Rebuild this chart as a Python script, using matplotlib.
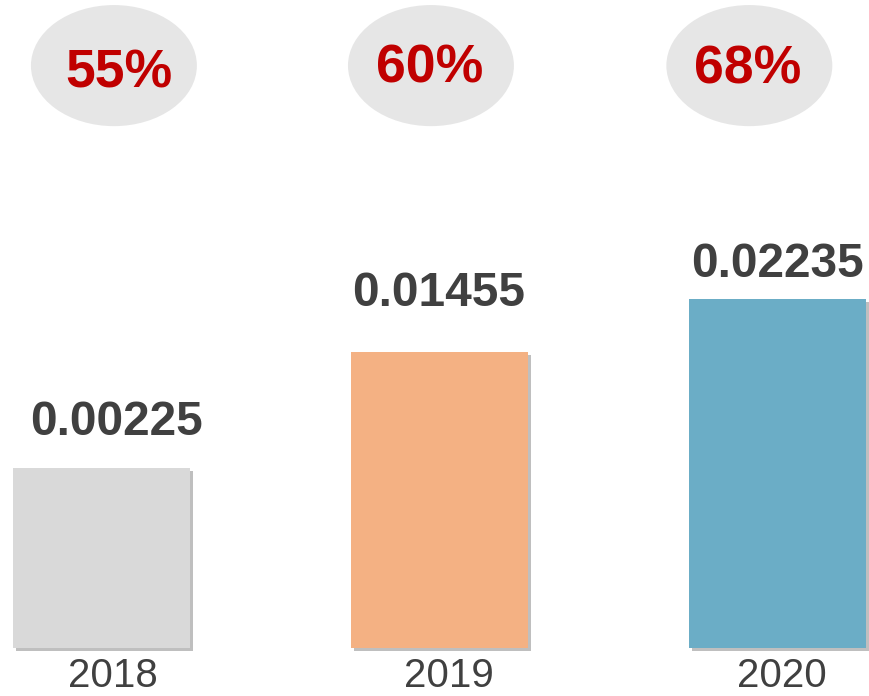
import matplotlib
matplotlib.use("Agg")
import matplotlib.pyplot as plt
from matplotlib.patches import Ellipse
import matplotlib.patheffects as pe

# ---- data ----
years = ["2018", "2019", "2020"]
values = [0.00225, 0.01455, 0.02235]
value_labels = ["0.00225", "0.01455", "0.02235"]
bar_heights = [0.516, 0.848, 1.0]          # visual bar heights (relative)
percents = ["55%", "60%", "68%"]

# ---- style / layout ----
bar_colors = ["#D9D9D9", "#F4B183", "#6BADC6"]
ellipse_color = "#E6E6E6"
red = "#C00000"
dark = "#404040"
font = ["Liberation Sans", "DejaVu Sans"]

fig = plt.figure(figsize=(8.7, 6.96), dpi=100)
ax = fig.add_axes([0, 0, 1, 1])
ax.set_xlim(-0.300, 2.274)
ax.set_ylim(-0.1375, 1.857)
ax.axis("off")

x = list(range(len(years)))
bars = ax.bar(x, bar_heights, width=0.524, color=bar_colors, zorder=2)
for b in bars:
    b.set_path_effects([
        pe.SimplePatchShadow(offset=(2.4, -2.0), shadow_rgbFace="0.5", alpha=0.5),
        pe.Normal(),
    ])

# percent bubbles
ell_x = [0.037, 0.975, 1.917]
ell_y = 1.669
for i, p in enumerate(percents):
    ax.add_patch(Ellipse((ell_x[i], ell_y), 0.491, 0.347, color=ellipse_color,
                         lw=0, zorder=1))
pct_pos = [(0.052, 1.607), (0.972, 1.622), (1.911, 1.619)]
for (px, py), p in zip(pct_pos, percents):
    ax.text(px, py, p, ha="center", va="baseline", fontsize=38.5,
            fontweight="bold", color=red, family=font, zorder=3)

# value labels
val_pos = [(0.046, 0.610), (0.999, 0.980), (2.0, 1.063)]
for (px, py), lab in zip(val_pos, value_labels):
    ax.text(px, py, lab, ha="center", va="baseline", fontsize=34.5,
            fontweight="bold", color=dark, family=font, zorder=3)

# year labels
year_x = [0.035, 1.028, 2.012]
for xx, yr in zip(year_x, years):
    ax.text(xx, -0.113, yr, ha="center", va="baseline", fontsize=29,
            color=dark, family=font, zorder=3)

fig.savefig("out.png", dpi=100)
